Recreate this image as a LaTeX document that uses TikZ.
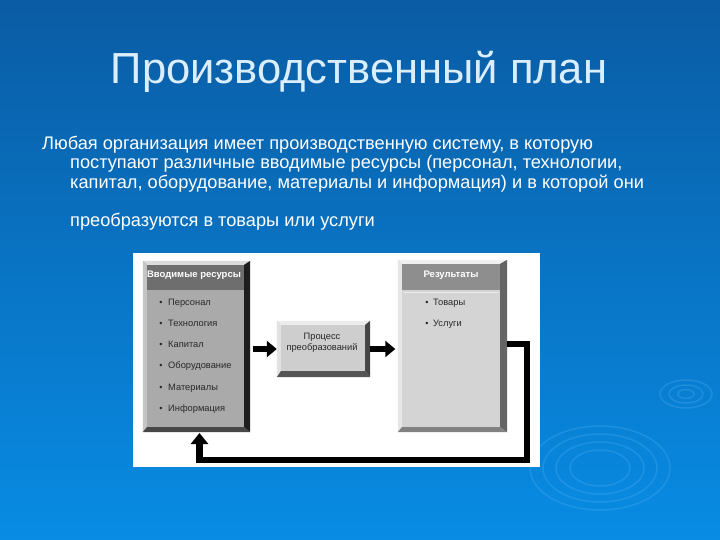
\documentclass[tikz,border=0pt]{standalone}
\usepackage{fontspec}
\setmainfont{Liberation Sans}
\usetikzlibrary{arrows.meta}
\definecolor{bgtop}{RGB}{10,92,164}
\definecolor{bgbot}{RGB}{8,140,228}
\definecolor{titlec}{RGB}{218,238,252}
\definecolor{ripple}{RGB}{80,176,244}
\definecolor{itemc}{RGB}{40,40,40}
% left box
\definecolor{lbody}{RGB}{170,170,170}
\definecolor{lhead}{RGB}{110,110,110}
\definecolor{ltop}{RGB}{220,220,220}
\definecolor{lleft}{RGB}{196,196,196}
\definecolor{lright}{RGB}{30,30,30}
\definecolor{lbot}{RGB}{72,72,72}
% right box
\definecolor{rbody}{RGB}{212,212,212}
\definecolor{rhead}{RGB}{142,142,142}
\definecolor{rtop}{RGB}{240,240,240}
\definecolor{rleft}{RGB}{230,230,230}
\definecolor{rright}{RGB}{100,100,100}
\definecolor{rbot}{RGB}{130,130,130}
% middle box
\definecolor{mbody}{RGB}{206,206,206}
\definecolor{mtop}{RGB}{236,236,236}
\definecolor{mleft}{RGB}{226,226,226}
\definecolor{mright}{RGB}{70,70,70}
\definecolor{mbot}{RGB}{85,85,85}
% bevel macro: node name, top, left, right, bottom colours, bevel widths (l,t,r,b)
\newcommand\mybevel[9]{%
  \fill[#2] (#1.north west) -- (#1.north east) -- ([xshift=-#8pt,yshift=-#7pt]#1.north east) -- ([xshift=#6pt,yshift=-#7pt]#1.north west) -- cycle;
  \fill[#3] (#1.north west) -- (#1.south west) -- ([xshift=#6pt,yshift=#9pt]#1.south west) -- ([xshift=#6pt,yshift=-#7pt]#1.north west) -- cycle;
  \fill[#4] (#1.north east) -- (#1.south east) -- ([xshift=-#8pt,yshift=#9pt]#1.south east) -- ([xshift=-#8pt,yshift=-#7pt]#1.north east) -- cycle;
  \fill[#5] (#1.south west) -- (#1.south east) -- ([xshift=-#8pt,yshift=#9pt]#1.south east) -- ([xshift=#6pt,yshift=#9pt]#1.south west) -- cycle;
}
\begin{document}
\begin{tikzpicture}[x=1pt,y=-1pt,
  title/.style={font=\fontsize{43.5}{48}\selectfont, text=titlec, inner sep=0},
  bodytext/.style={font=\fontsize{18.2}{20}\selectfont, text=white, inner sep=0, anchor=base west},
  panel/.style={inner sep=0, draw=none},
  headtext/.style={font=\fontsize{9.5}{11}\selectfont\bfseries, text=white, inner sep=0},
  item/.style={font=\fontsize{9.3}{11}\selectfont, text=itemc, inner sep=0, anchor=base west},
  bul/.style={font=\fontsize{9}{11}\selectfont, text=itemc, inner sep=0, anchor=base},
  blockarrow/.style={line width=6pt, -{Triangle[length=10pt,width=16pt]}},
  fbline/.style={line width=6.5pt, -{Triangle[length=11pt,width=17pt]}},
  ring/.style={draw=ripple, line width=1.5pt, opacity=0.3}
]
\useasboundingbox (0,0) rectangle (720,540);
\shade[top color=bgtop, bottom color=bgbot] (0,0) rectangle (720,540);

% ripples
\foreach \rx/\ry in {70/42, 57/34, 44/26, 30/18}
  \draw[ring] (600,468) ellipse [x radius=\rx, y radius=\ry];
\foreach \rx/\ry in {26/14, 17/9, 8/4.5}
  \draw[ring] (686,394) ellipse [x radius=\rx, y radius=\ry];

% title
\node[title, anchor=base] (title) at (359,84) {Производственный план};

% body text
\node[bodytext] (b1) at (42,150) {Любая организация имеет производственную систему, в которую};
\node[bodytext] (b2) at (70,169) {поступают различные вводимые ресурсы (персонал, технологии,};
\node[bodytext] (b3) at (70,189) {капитал, оборудование, материалы и информация) и в которой они};
\node[bodytext] (b4) at (70,226) {преобразуются в товары или услуги};

% white panel
\node[panel, fill=white, minimum width=407pt, minimum height=214pt] (sheet) at (336.5,360) {};

% left box
\node[panel, fill=lbody, minimum width=107pt, minimum height=171pt] (inp) at (196.5,346.5) {};
\mybevel{inp}{ltop}{lleft}{lright}{lbot}{4}{4}{6}{5}
\fill[lhead] ([xshift=4pt,yshift=-4pt]inp.north west) rectangle ([xshift=-6pt,yshift=-29pt]inp.north east);
\node[headtext] (inph) at (194,275.5) {Вводимые ресурсы};
\foreach \t [count=\i] in {Персонал,Технология,Капитал,Оборудование,Материалы,Информация}{
  \pgfmathsetmacro\yy{305+21.3*(\i-1)}
  \node[bul] (ib\i) at (161,\yy) {•};
  \node[item] (it\i) at (168,\yy) {\t};
}

% middle box
\node[panel, fill=mbody, minimum width=93pt, minimum height=56pt] (proc) at (323.5,349) {};
\mybevel{proc}{mtop}{mleft}{mright}{mbot}{4}{4}{5}{6}
\node[font=\fontsize{9.3}{11.5}\selectfont, text=itemc, align=center, inner sep=0] (proct) at (322,343) {Процесс\\преобразований};

% right box
\node[panel, fill=rbody, minimum width=109pt, minimum height=172pt] (out) at (452.5,346) {};
\mybevel{out}{rtop}{rleft}{rright}{rbot}{4}{4}{7}{5}
\fill[rhead] ([xshift=4pt,yshift=-4pt]out.north west) rectangle ([xshift=-7pt,yshift=-30pt]out.north east);
\draw[white!85!gray, line width=0.6pt] ([xshift=6pt,yshift=-32pt]out.north west) -- ([xshift=-9pt,yshift=-32pt]out.north east);
\node[headtext] (outh) at (451,275.5) {Результаты};
\node[bul] (ob1) at (427,305) {•};
\node[item] (ot1) at (433,305) {Товары};
\node[bul] (ob2) at (427,326.3) {•};
\node[item] (ot2) at (433,326.3) {Услуги};

% arrows
\draw[blockarrow, shorten <=2.5pt] (inp.east |- proc.west) -- (proc.west);
\draw[blockarrow, shorten >=2.5pt] (proc.east) -- (out.west |- proc.east);

% feedback loop
\coordinate (fb1) at (527,344);
\coordinate (fb2) at (527,460);
\coordinate (fb3) at (199.5,460);
\coordinate (fb4) at (199.5,433);
\draw[fbline, line join=miter] (out.east |- fb1) -- (fb1) -- (fb2) -- (fb3) -- (fb4);
\end{tikzpicture}
\end{document}
